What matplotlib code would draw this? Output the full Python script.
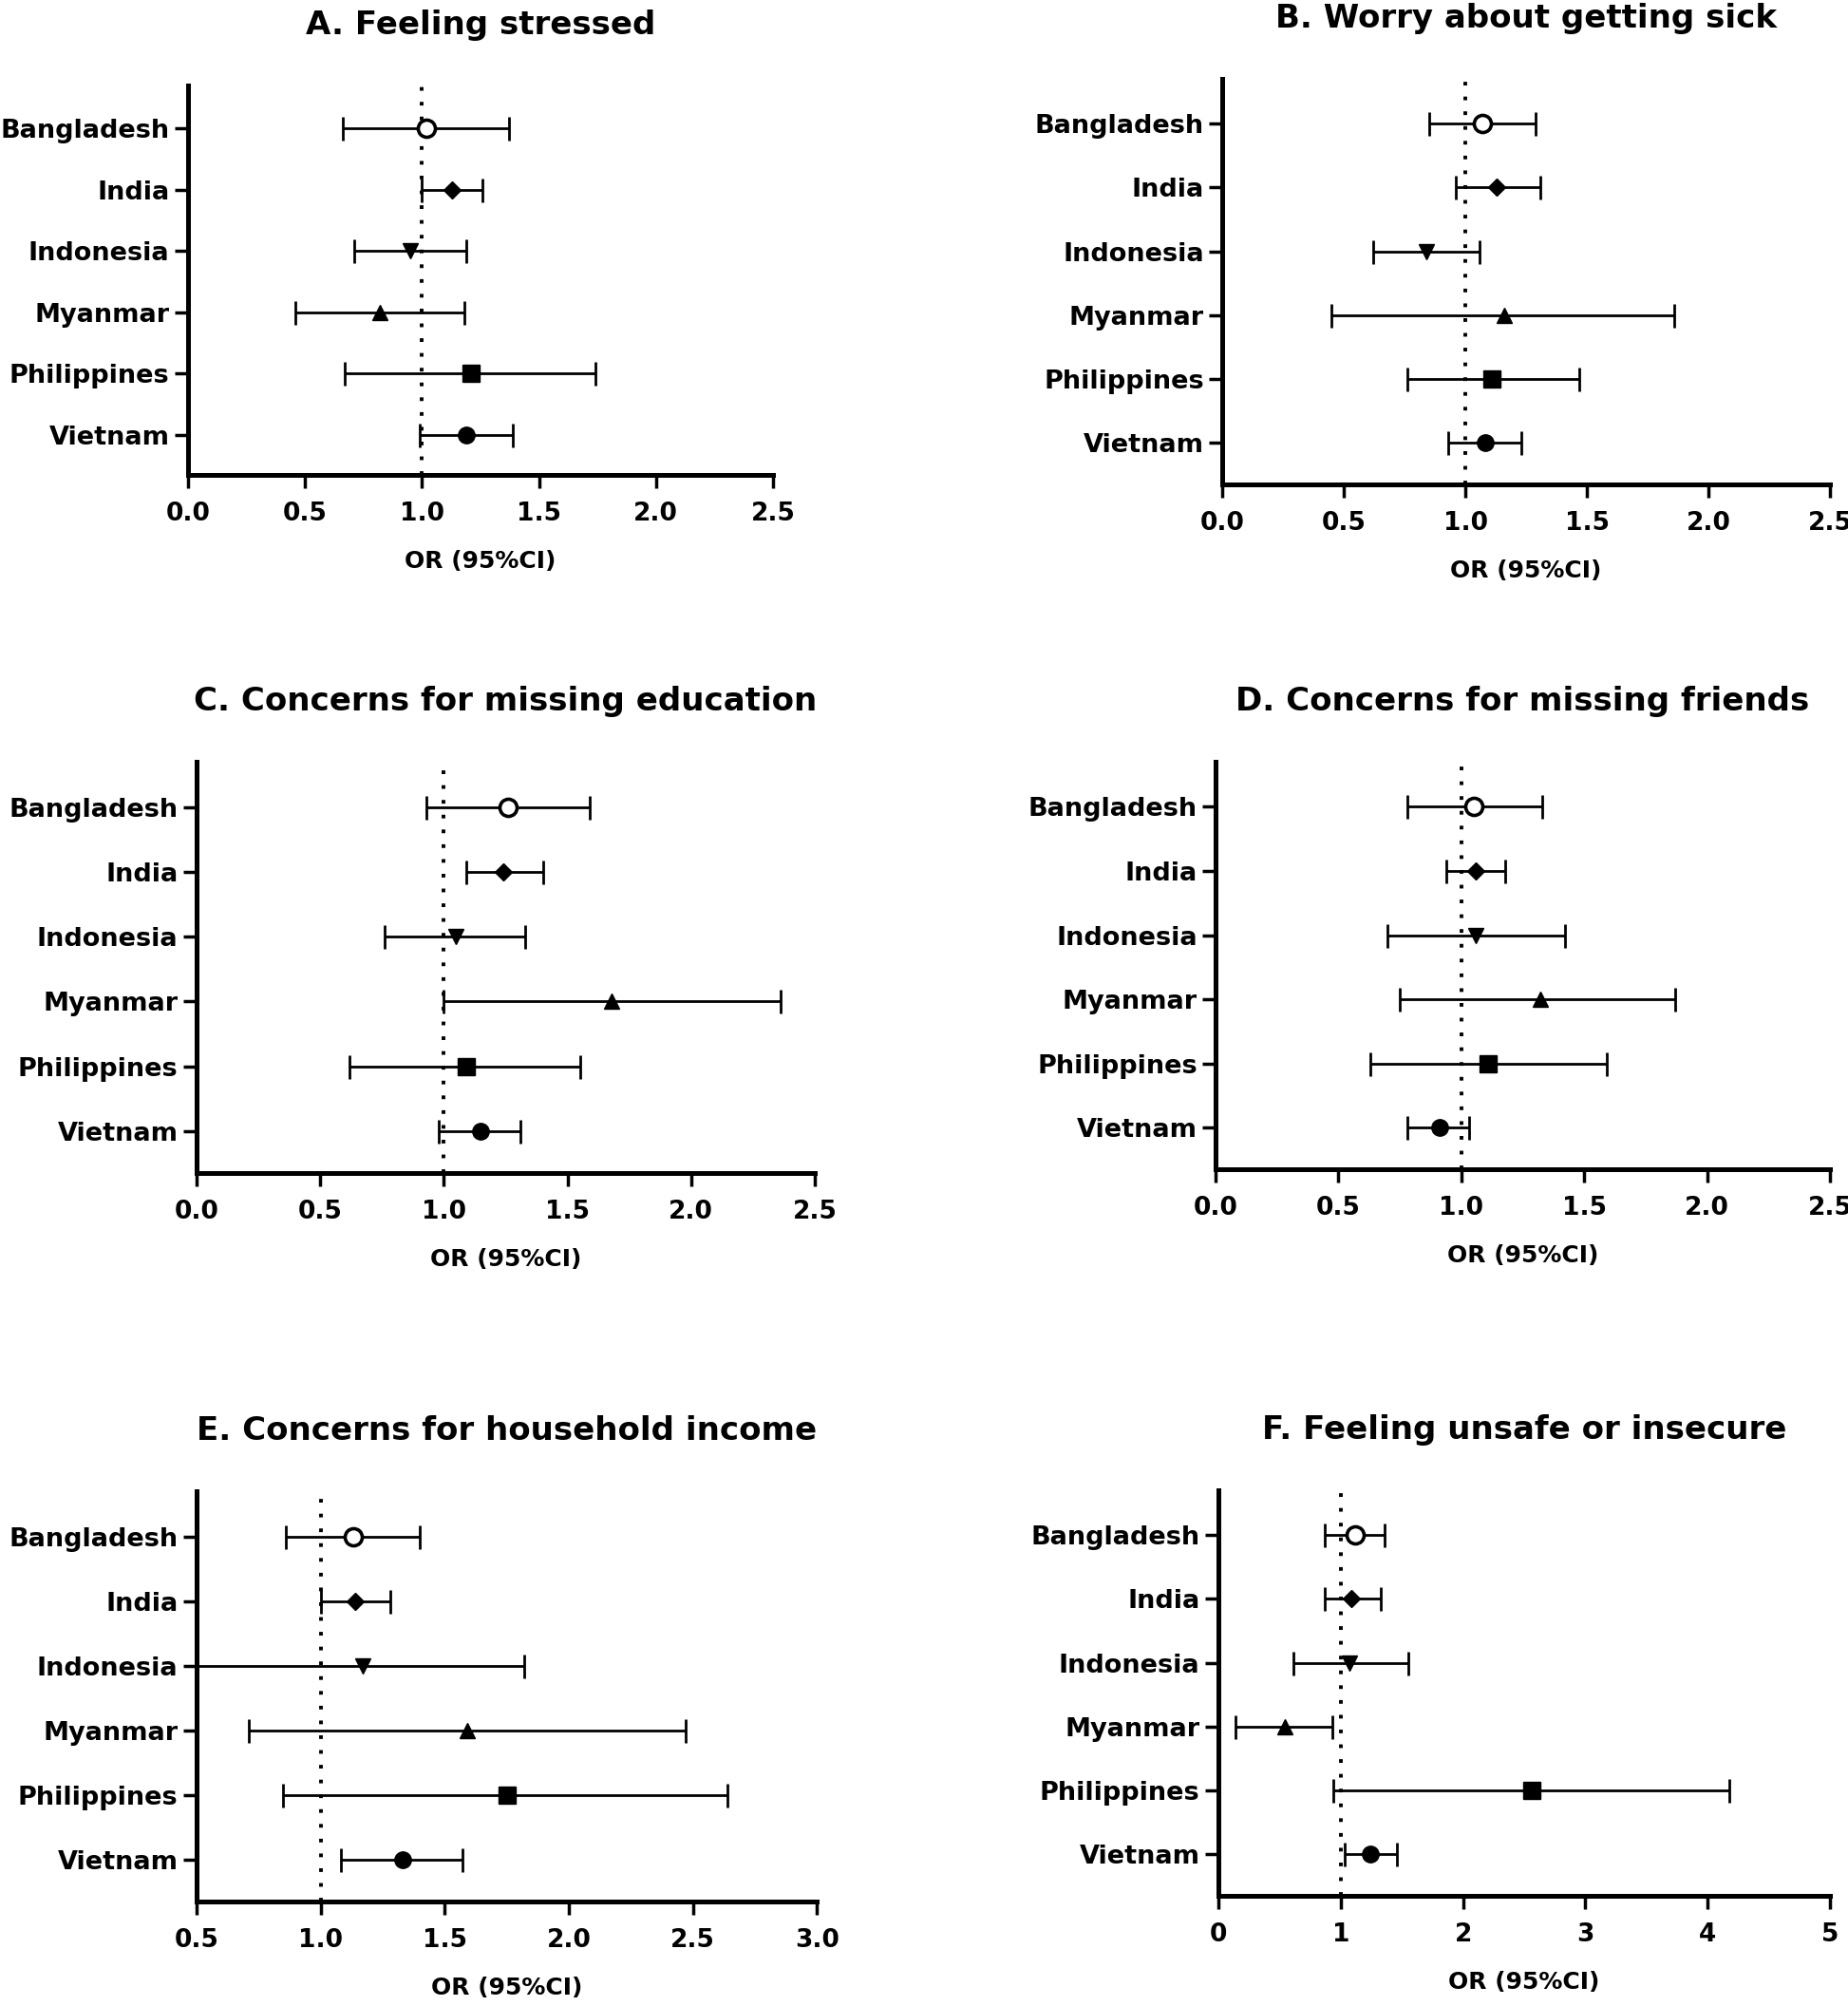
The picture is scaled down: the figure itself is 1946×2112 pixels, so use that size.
import matplotlib.pyplot as plt
import numpy as np

countries = ["Bangladesh", "India", "Indonesia", "Myanmar", "Philippines", "Vietnam"]

titles = [
    "A. Feeling stressed",
    "B. Worry about getting sick",
    "C. Concerns for missing education",
    "D. Concerns for missing friends",
    "E. Concerns for household income",
    "F. Feeling unsafe or insecure",
]

# odds ratios and 95% CI
or_a = [1.02, 1.13, 0.95, 0.82, 1.21, 1.19]
lo_a = [0.66, 1.00, 0.71, 0.46, 0.67, 0.99]
hi_a = [1.37, 1.26, 1.19, 1.18, 1.74, 1.39]

or_b = [1.07, 1.13, 0.84, 1.16, 1.11, 1.08]
lo_b = [0.85, 0.96, 0.62, 0.45, 0.76, 0.93]
hi_b = [1.29, 1.31, 1.06, 1.86, 1.47, 1.23]

or_c = [1.26, 1.24, 1.05, 1.68, 1.09, 1.15]
lo_c = [0.93, 1.09, 0.76, 1.00, 0.62, 0.98]
hi_c = [1.59, 1.40, 1.33, 2.36, 1.55, 1.31]

or_d = [1.05, 1.06, 1.06, 1.32, 1.11, 0.91]
lo_d = [0.78, 0.94, 0.70, 0.75, 0.63, 0.78]
hi_d = [1.33, 1.18, 1.42, 1.87, 1.59, 1.03]

or_e = [1.13, 1.14, 1.17, 1.59, 1.75, 1.33]
lo_e = [0.86, 1.00, 0.50, 0.71, 0.85, 1.08]
hi_e = [1.40, 1.28, 1.82, 2.47, 2.64, 1.57]

or_f = [1.12, 1.09, 1.07, 0.54, 2.56, 1.24]
lo_f = [0.87, 0.87, 0.61, 0.14, 0.94, 1.03]
hi_f = [1.36, 1.33, 1.55, 0.93, 4.18, 1.46]

xlims = [(0, 2.5), (0, 2.5), (0, 2.5), (0, 2.5), (0.5, 3.0), (0, 5)]
xticks = [
    [0.0, 0.5, 1.0, 1.5, 2.0, 2.5],
    [0.0, 0.5, 1.0, 1.5, 2.0, 2.5],
    [0.0, 0.5, 1.0, 1.5, 2.0, 2.5],
    [0.0, 0.5, 1.0, 1.5, 2.0, 2.5],
    [0.5, 1.0, 1.5, 2.0, 2.5, 3.0],
    [0, 1, 2, 3, 4, 5],
]
xfmt = ["{:.1f}"] * 5 + ["{:.0f}"]

panels = [
    (or_a, lo_a, hi_a), (or_b, lo_b, hi_b), (or_c, lo_c, hi_c),
    (or_d, lo_d, hi_d), (or_e, lo_e, hi_e), (or_f, lo_f, hi_f),
]

# axes boxes in figure fraction (left, bottom, width, height)
boxes = [
    [0.1017, 0.7633, 0.3166, 0.1941],
    [0.6614, 0.7585, 0.3289, 0.2022],
    [0.1064, 0.4152, 0.3345, 0.2050],
    [0.6578, 0.4171, 0.3325, 0.2031],
    [0.1064, 0.0521, 0.3356, 0.2045],
    [0.6593, 0.0549, 0.3309, 0.2022],
]

# marker style per country
markers = ["o", "D", "v", "^", "s", "o"]
msizes = [13, 9, 12, 12, 12.5, 12.5]
faces = ["white", "black", "black", "black", "black", "black"]

plt.rcParams["font.family"] = "DejaVu Sans"
plt.rcParams["font.weight"] = "bold"

fig = plt.figure(figsize=(19.46, 21.12), dpi=100)
fig.patch.set_facecolor("white")

ypos = np.arange(1, len(countries) + 1)

for k, (ors, los, his) in enumerate(panels):
    ax = fig.add_axes(boxes[k])
    ors = np.array(ors)
    los = np.array(los)
    his = np.array(his)

    ax.axvline(1.0, color="black", lw=2.8, ls=(0, (1, 3)), zorder=1)

    ax.errorbar(ors, ypos, xerr=[ors - los, his - ors], fmt="none",
                ecolor="black", elinewidth=2.0, capsize=9, capthick=2.0,
                zorder=2, clip_on=False)
    for i in range(len(countries)):
        ax.plot(ors[i], ypos[i], marker=markers[i], ms=msizes[i],
                mfc=faces[i], mec="black", mew=2.6 if i == 0 else 1,
                ls="none", zorder=3, clip_on=False)

    ax.set_xlim(*xlims[k])
    ax.set_ylim(6.65, 0.3)
    ax.set_xticks(xticks[k])
    ax.set_xticklabels([xfmt[k].format(v) for v in xticks[k]],
                       fontsize=19, fontweight="bold")
    ax.set_yticks(ypos)
    ax.set_yticklabels(countries, fontsize=19.5, fontweight="bold")

    ax.tick_params(axis="x", length=10, width=2.5, pad=10)
    ax.tick_params(axis="y", length=10, width=2.5, pad=4)

    for side in ["top", "right"]:
        ax.spines[side].set_visible(False)
    for side in ["left", "bottom"]:
        ax.spines[side].set_linewidth(3.6)

    ax.set_xlabel("OR (95%CI)", fontsize=18, fontweight="bold", labelpad=18)
    ax.annotate(titles[k], xy=(0.5, 1.0), xycoords="axes fraction",
                xytext=(0, 46), textcoords="offset points",
                ha="center", va="center", fontsize=24.5, fontweight="bold")

plt.savefig("out.png", dpi=100)
